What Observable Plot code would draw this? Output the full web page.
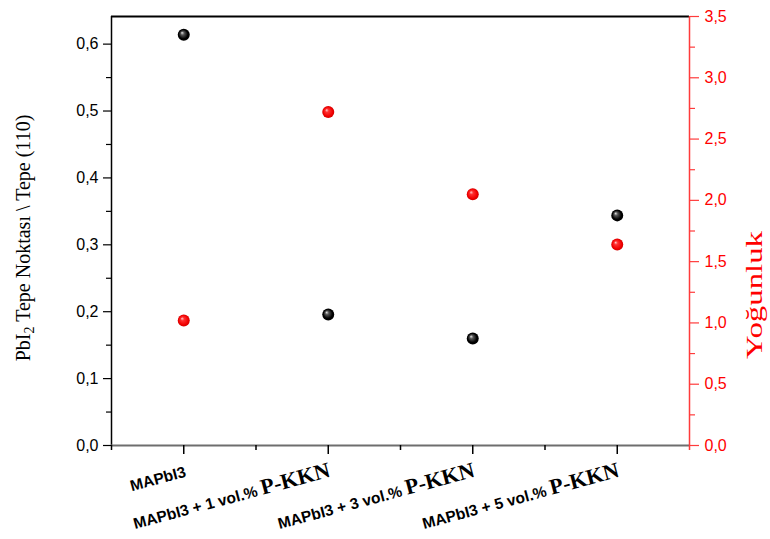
<!DOCTYPE html>
<html>
<head>
<meta charset="utf-8">
<script src="https://cdn.jsdelivr.net/npm/d3@7"></script>
<script src="https://cdn.jsdelivr.net/npm/@observablehq/plot@0.6"></script>
<style>
  html, body { margin: 0; padding: 0; background: #fff; }
</style>
</head>
<body>
<div id="chart"></div>
<script>
// ---- data ----
const categories = [
  "MAPbI3",
  "MAPbI3 + 1 vol.% P-KKN",
  "MAPbI3 + 3 vol.% P-KKN",
  "MAPbI3 + 5 vol.% P-KKN"
];
const peakRatio = [0.614, 0.196, 0.160, 0.344];   // left axis (black)
const density   = [1.02, 2.72, 2.05, 1.64];       // right axis (red)
const leftTicks  = [0, 0.1, 0.2, 0.3, 0.4, 0.5, 0.6];
const leftMinor  = [0.05, 0.15, 0.25, 0.35, 0.45, 0.55];
const rightTicks = [0, 0.5, 1, 1.5, 2, 2.5, 3, 3.5];
const rightMinor = [0.25, 0.75, 1.25, 1.75, 2.25, 2.75, 3.25];
const leftLabel = ["PbI", "2", " Tepe Noktası \\ Tepe (110)"];
const rightLabel = "Yoğunluk";

// ---- scales helpers ----
const yTop = 0.6413;          // left axis top
const rightMax = 3.5;         // right axis top
const k = yTop / rightMax;    // right -> left conversion
const fmt = d => d.toFixed(1).replace(".", ",");

const idx = categories.map((c, i) => i);
const rows = categories.map((c, i) => ({i, c, ratio: peakRatio[i], dens: density[i]}));
const minorX = [-0.5, ...idx.slice(0, -1).map(i => i + 0.5)];
const RED = "#ff0000";
const RED_AXIS = "#ff3b3b";

const defsMark = () => {
  const defs = d3.create("svg:defs");
  const g1 = defs.append("radialGradient").attr("id", "ballBlack")
    .attr("cx", "0.5").attr("cy", "0.5").attr("r", "0.5")
    .attr("fx", "0.35").attr("fy", "0.32");
  g1.append("stop").attr("offset", "0").attr("stop-color", "#e8e8e8");
  g1.append("stop").attr("offset", "0.3").attr("stop-color", "#555");
  g1.append("stop").attr("offset", "0.75").attr("stop-color", "#000");
  g1.append("stop").attr("offset", "1").attr("stop-color", "#000");
  const g2 = defs.append("radialGradient").attr("id", "ballRed")
    .attr("cx", "0.5").attr("cy", "0.5").attr("r", "0.5")
    .attr("fx", "0.35").attr("fy", "0.32");
  g2.append("stop").attr("offset", "0").attr("stop-color", "#ffd0d0");
  g2.append("stop").attr("offset", "0.3").attr("stop-color", "#ff3030");
  g2.append("stop").attr("offset", "0.8").attr("stop-color", "#f00000");
  g2.append("stop").attr("offset", "1").attr("stop-color", "#d00000");
  return defs.node();
};

const plot = Plot.plot({
  width: 770,
  height: 539,
  marginLeft: 111,
  marginRight: 81,
  marginTop: 16,
  marginBottom: 94,
  x: {type: "linear", domain: [-0.5, idx.length - 0.5]},
  y: {domain: [0, yTop]},
  style: {
    fontFamily: "'Liberation Sans', Arial, sans-serif",
    fontSize: "16px",
    background: "#fff",
    color: "#000"
  },
  marks: [
    defsMark,
    // frame
    Plot.ruleY([yTop], {stroke: "#000", strokeWidth: 2}),
    Plot.ruleX([-0.5], {stroke: "#000", strokeWidth: 1.5}),
    Plot.ruleX([idx.length - 0.5], {stroke: RED_AXIS, strokeWidth: 1.5}),
    Plot.ruleY([0], {stroke: "#6e6e6e", strokeWidth: 2}),
    // left axis
    Plot.axisY(leftTicks, {anchor: "left", tickSize: 8, tickPadding: 5, tickFormat: fmt, label: null, fontSize: 16, strokeWidth: 1.2}),
    Plot.axisY(leftMinor, {anchor: "left", tickSize: 5, tickFormat: () => "", label: null, strokeWidth: 1.2}),
    // right axis
    Plot.axisY(rightTicks.map(v => v * k), {anchor: "right", tickSize: 9, tickPadding: 6, tickFormat: d => fmt(d / k), label: null, fontSize: 16, stroke: RED_AXIS, fill: RED, strokeWidth: 1.2}),
    Plot.axisY(rightMinor.map(v => v * k), {anchor: "right", tickSize: 5, tickFormat: () => "", label: null, stroke: RED_AXIS, strokeWidth: 1.2}),
    // x axis ticks
    Plot.axisX(idx, {anchor: "bottom", tickSize: 9, tickFormat: () => "", label: null, strokeWidth: 1.5}),
    Plot.axisX(minorX, {anchor: "bottom", tickSize: 5, tickFormat: () => "", label: null, strokeWidth: 1.5}),
    Plot.axisX([idx.length - 0.5], {anchor: "bottom", tickSize: 5, tickFormat: () => "", label: null, stroke: RED_AXIS, strokeWidth: 1.5}),
    // x labels
    Plot.text(rows, {
      x: "i", text: "c", frameAnchor: "bottom", dy: 31, dx: 3,
      rotate: -15, textAnchor: "end", lineAnchor: "bottom",
      fontWeight: "bold", fontSize: 15.5, fill: "#000"
    }),
    // points
    Plot.dot(rows, {x: "i", y: "ratio", r: 6, fill: "url(#ballBlack)", stroke: "none"}),
    Plot.dot(rows, {x: "i", y: d => d.dens * k, r: 6, fill: "url(#ballRed)", stroke: "none"})
  ]
});

document.getElementById("chart").appendChild(plot);
const svg = d3.select(plot);

// split x labels into sans + serif parts
svg.selectAll("text").each(function() {
  const t = d3.select(this);
  if (this.querySelector("tspan")) return;
  const s = t.text();
  const pos = s.indexOf("P-KKN");
  if (pos < 0) return;
  t.text(null);
  t.append("tspan").text(s.slice(0, pos));
  t.append("tspan")
    .style("font-family", "'Liberation Serif', 'Times New Roman', serif")
    .style("font-size", "22px")
    .text(s.slice(pos));
});

// left axis title
const lt = svg.append("text")
  .attr("transform", "translate(30,238) rotate(-90)")
  .attr("text-anchor", "middle")
  .style("font-family", "'Liberation Serif', 'Times New Roman', serif")
  .style("font-size", "20px")
  .attr("fill", "#000");
lt.append("tspan").text(leftLabel[0]);
lt.append("tspan").attr("dy", 4).style("font-size", "14px").text(leftLabel[1]);
lt.append("tspan").attr("dy", -4).text(leftLabel[2]);

// right axis title
svg.append("text")
  .attr("transform", "translate(762,295) rotate(-90)")
  .attr("text-anchor", "middle")
  .attr("textLength", 128)
  .attr("lengthAdjust", "spacingAndGlyphs")
  .style("font-family", "'Liberation Serif', 'Times New Roman', serif")
  .style("font-size", "24px")
  .style("font-weight", "normal")
  .attr("fill", RED)
  .text(rightLabel);
</script>
</body>
</html>
